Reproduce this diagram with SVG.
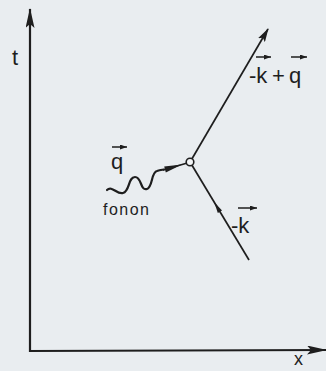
<svg xmlns="http://www.w3.org/2000/svg" width="326" height="371" viewBox="0 0 326 371">
<defs>
<style>
.ax{stroke:#1e1e1e;stroke-width:2.2;fill:none}
.ln{stroke:#1e1e1e;stroke-width:1.7;fill:none}
.wv{stroke:#1e1e1e;stroke-width:2.2;fill:none;stroke-linecap:round}
.hd{fill:#1e1e1e;stroke:none}
.lb{font-family:"Liberation Sans",Arial,sans-serif;font-size:22px;fill:#1e1e1e}
.va{stroke:#1e1e1e;stroke-width:1.5;fill:none}
</style>
<marker id="ah" viewBox="0 0 14 8" refX="13" refY="4" markerWidth="14" markerHeight="8" markerUnits="userSpaceOnUse" orient="auto">
<path d="M0,0 L14,4 L0,8 L3,4 Z" fill="#1e1e1e"/>
</marker>
<marker id="axh" viewBox="0 0 20 9" refX="19" refY="4.5" markerWidth="20" markerHeight="9" markerUnits="userSpaceOnUse" orient="auto">
<path d="M0,0 L20,4.5 L0,9 L4,4.5 Z" fill="#1e1e1e"/>
</marker>
<marker id="vh" viewBox="0 0 7 5" refX="7" refY="2.5" markerWidth="7" markerHeight="5" markerUnits="userSpaceOnUse" orient="auto">
<path d="M0,0 L7,2.5 L0,5 Z" fill="#1e1e1e"/>
</marker>
</defs>
<rect width="326" height="371" fill="#e9edf0"/>
<g id="axes">
<line class="ax" x1="30" y1="352" x2="30" y2="9" marker-end="url(#axh)"/>
<line class="ax" x1="29" y1="351" x2="326" y2="350" marker-end="url(#axh)"/>
<text class="lb" x="12" y="65">t</text>
<text class="lb" x="294" y="365" style="font-size:18px">x</text>
</g>
<g id="connectors">
<line class="ln" x1="192" y1="158.8" x2="268" y2="29" marker-end="url(#ah)"/>
<line class="ln" x1="192" y1="165.3" x2="249" y2="260"/>
<polygon class="hd" points="214.3,202.3 222,210.4 217.8,213"/>
<path class="wv" d="M107,190 C112,185 117,195 123,193 C130,191 128,177 135,177 C142,177 140,191 147,189 C153,187 151,172 157,171 C160,170 161,170 164,169.5"/>
<line class="ln" x1="163" y1="170" x2="186.5" y2="163.3"/>
<polygon class="hd" points="165.8,172.6 164.2,166.4 182,164.6"/>
</g>
<g id="vertex">
<circle cx="190" cy="162" r="3.8" fill="#f4f6f7" stroke="#1e1e1e" stroke-width="1.6"/>
</g>
<g id="label-q">
<text class="lb" x="111" y="169">q</text>
<line class="va" x1="112" y1="147" x2="127" y2="147" marker-end="url(#vh)"/>
</g>
<g id="label-fonon">
<text class="lb" x="103" y="215" textLength="46" lengthAdjust="spacing" style="font-size:16px">fonon</text>
</g>
<g id="label-minus-k">
<text class="lb" x="231" y="233">-k</text>
<line class="va" x1="238" y1="208" x2="257" y2="208" marker-end="url(#vh)"/>
</g>
<g id="label-minus-k-plus-q">
<text class="lb" x="249" y="83">-k</text>
<text class="lb" x="272" y="83">+</text>
<text class="lb" x="289" y="83">q</text>
<line class="va" x1="256" y1="57" x2="271" y2="57" marker-end="url(#vh)"/>
<line class="va" x1="291" y1="57" x2="307" y2="57" marker-end="url(#vh)"/>
</g>
</svg>
